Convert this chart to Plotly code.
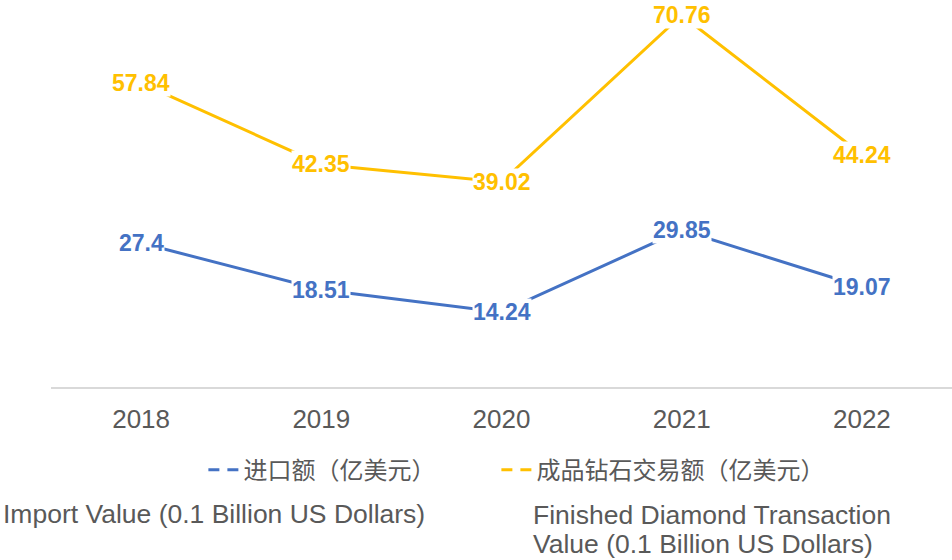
import plotly.graph_objects as go

years = ["2018", "2019", "2020", "2021", "2022"]
import_values = [27.4, 18.51, 14.24, 29.85, 19.07]
diamond_values = [57.84, 42.35, 39.02, 70.76, 44.24]

name_import = "进口额（亿美元）"
name_diamond = "成品钻石交易额（亿美元）"
note_import = "Import Value (0.1 Billion US Dollars)"
note_diamond_lines = ["Finished Diamond Transaction", "Value (0.1 Billion US Dollars)"]

BLUE = "#4472C4"
GOLD = "#FFC000"
GRAY = "#595959"
FONT = "Liberation Sans, Arial, Noto Sans CJK SC, sans-serif"

fig = go.Figure()

series = [(import_values, BLUE, name_import, "legend"),
          (diamond_values, GOLD, name_diamond, "legend2")]

for vals, col, name, leg in series:
    fig.add_trace(go.Scatter(x=years, y=vals, mode="lines",
                             line=dict(color=col, width=3),
                             showlegend=False, hoverinfo="skip"))
    fig.add_trace(go.Scatter(x=[None], y=[None], mode="lines", name=name,
                             line=dict(color=col, width=3, dash="11px,8px"),
                             legend=leg, showlegend=True))
    for i, yv in enumerate(vals):
        fig.add_annotation(x=i, y=yv, xref="x", yref="y", text=f"{yv:g}",
                           showarrow=False, bgcolor="white", borderpad=0,
                           font=dict(family=FONT, size=23, color=col, weight="bold"))

note_font = dict(family=FONT, size=26.5, color=GRAY)
fig.add_annotation(x=-0.0544, y=-0.328, xref="paper", yref="paper",
                   xanchor="left", yanchor="middle", text=note_import,
                   showarrow=False, align="left", borderpad=0, font=note_font)
for k, line in enumerate(note_diamond_lines):
    fig.add_annotation(x=0.534, y=-0.3307 - k * 0.0748, xref="paper", yref="paper",
                       xanchor="left", yanchor="middle", text=line,
                       showarrow=False, align="left", borderpad=0, font=note_font)

legend_common = dict(orientation="h", yanchor="middle", xanchor="left",
                     bgcolor="rgba(0,0,0,0)", borderwidth=0,
                     font=dict(family=FONT, size=24, color=GRAY))

leg_x1 = (244 - 40 - 51) / 901 - 0.014 + 12 / 901
leg_x2 = (538 - 40 - 51) / 901 - 0.014 + 11 / 901

fig.update_layout(
    width=952, height=560,
    margin=dict(l=51, r=0, t=0, b=173),
    plot_bgcolor="white", paper_bgcolor="white",
    legend=dict(x=leg_x1, y=-0.2147, **legend_common),
    legend2=dict(x=leg_x2, y=-0.2147, **legend_common),
    xaxis=dict(type="category", range=[-0.5, 4.5], showgrid=False, zeroline=False,
               showline=True, linecolor="#D9D9D9", linewidth=1.5,
               ticks="", ticklabelstandoff=8,
               tickfont=dict(family=FONT, size=26, color=GRAY)),
    yaxis=dict(range=[0, 73.65], showgrid=False, zeroline=False,
               showticklabels=False, showline=False),
)

fig.write_html("out.html", config={"displayModeBar": False},
               post_script="document.body.style.margin='0px';")
